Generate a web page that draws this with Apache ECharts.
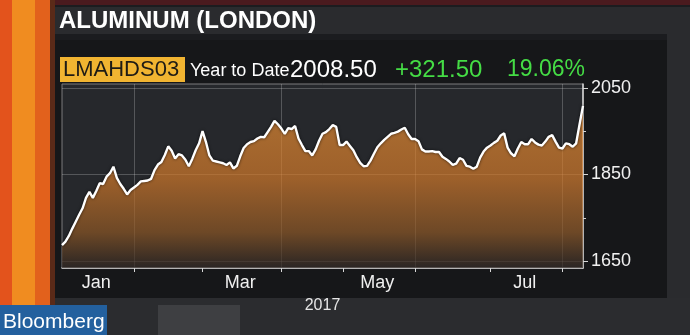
<!DOCTYPE html>
<html><head><meta charset="utf-8">
<script src="https://cdn.jsdelivr.net/npm/echarts@6/dist/echarts.min.js"></script>
<style>html,body{margin:0;padding:0;background:#1a1b1e;}#c{width:690px;height:335px;}</style>
</head><body><div id="c"></div>
<script>
// ---- data ----
const startDate = '2017-01-03';
const endDate = '2017-08-09';
const holidays = ['2017-04-14', '2017-04-17', '2017-05-01', '2017-05-29'];
const monthNames = ['Jan', 'Feb', 'Mar', 'Apr', 'May', 'Jun', 'Jul', 'Aug'];
const labelMonths = ['Jan', 'Mar', 'May', 'Jul'];
const gridMonths = ['Feb', 'Apr', 'Jun', 'Aug'];
const prices = [
  1687,1695,1708,1725,1741,1757,1772,1796,1810,1796,
  1812,1830,1828,1845,1853,1868,1842,1828,1817,1804,
  1814,1820,1826,1834,1835,1836,1840,1860,1873,1879,
  1895,1915,1905,1887,1897,1894,1884,1869,1886,1906,
  1922,1950,1925,1894,1882,1880,1878,1876,1872,1878,
  1864,1870,1892,1911,1920,1925,1927,1933,1937,1936,
  1948,1960,1974,1966,1956,1944,1957,1955,1962,1933,
  1918,1904,1904,1894,1908,1928,1944,1948,1955,1964,
  1960,1918,1918,1926,1916,1906,1890,1877,1869,1870,
  1882,1898,1913,1922,1930,1937,1944,1946,1949,1954,
  1958,1943,1932,1932,1927,1908,1903,1903,1904,1902,
  1902,1891,1886,1880,1872,1875,1888,1884,1870,1868,
  1863,1868,1889,1903,1912,1917,1923,1928,1940,1945,
  1912,1899,1892,1910,1925,1920,1920,1932,1924,1919,
  1917,1926,1937,1941,1926,1912,1910,1922,1920,1914,
  1922,1966,2008.5
];
const yMajorValues = [1650, 1850, 2050];
const yMinorValues = [1750, 1950];
const yMin = 1634, yMax = 2059;
const xAxisName = '2017';
const titleText = 'ALUMINUM (LONDON)';
const tickerText = 'LMAHDS03';
const periodText = 'Year to Date';
const lastText = '2008.50';
const changeText = '+321.50';
const pctText = '19.06%';
const brandText = 'Bloomberg';

// ---- categories (trading days) ----
const dates = [];
{
  let d = new Date(startDate + 'T00:00:00Z');
  const end = new Date(endDate + 'T00:00:00Z');
  while (d <= end) {
    const s = d.toISOString().slice(0, 10);
    const wd = d.getUTCDay();
    if (wd !== 0 && wd !== 6 && holidays.indexOf(s) < 0) dates.push(s);
    d = new Date(d.getTime() + 86400000);
  }
}
const monthOf = s => monthNames[parseInt(s.slice(5, 7), 10) - 1];
const monthStart = {};
dates.forEach((s, i) => { const m = monthOf(s); if (!(m in monthStart)) monthStart[m] = i; });
const startIdx = new Set(Object.keys(monthStart).filter(m => m !== 'Jan').map(m => monthStart[m]));
const gridIdx = new Set(gridMonths.map(m => monthStart[m]));
const labelIdx = new Set(labelMonths.map(m => {
  const k = monthNames.indexOf(m);
  const a = monthStart[m];
  const b = monthStart[monthNames[k + 1]];
  return Math.floor((a + b) / 2);
}));

const FONT = '"Liberation Sans", Arial, Helvetica, sans-serif';
const chart = echarts.init(document.getElementById('c'));
chart.setOption({
  backgroundColor: '#1b1c1f',
  animation: false,
  grid: {
    left: 62, right: 107, top: 84, bottom: 67,
    show: true, backgroundColor: '#26282c', borderColor: '#7a7b7d', borderWidth: 1
  },
  xAxis: {
    type: 'category', data: dates, boundaryGap: false,
    name: xAxisName, nameLocation: 'middle', nameGap: 30,
    nameTextStyle: { color: '#e6e6e6', fontSize: 16, fontFamily: FONT },
    axisLine: { lineStyle: { color: '#d8d8d8', width: 1.5 } },
    axisTick: { interval: (i) => startIdx.has(i), length: 4, lineStyle: { color: '#d8d8d8' } },
    axisLabel: {
      interval: (i) => labelIdx.has(i), formatter: (v) => monthOf(v),
      color: '#f0f0f0', fontSize: 18, fontFamily: FONT, margin: 6
    },
    splitLine: { show: true, interval: (i) => gridIdx.has(i), lineStyle: { color: 'rgba(255,255,255,0.22)' } }
  },
  yAxis: [{
    type: 'value', position: 'right', min: yMin, max: yMax,
    axisLine: { show: true, lineStyle: { color: '#d8d8d8', width: 1.5 } },
    axisTick: { show: true, customValues: yMajorValues, length: 5, lineStyle: { color: '#d8d8d8' } },
    axisLabel: { customValues: yMajorValues, formatter: (v) => String(v), color: '#f0f0f0', fontSize: 18, fontFamily: FONT, margin: 8 },
    splitLine: { show: true, lineStyle: { color: 'rgba(255,255,255,0.22)' } }
  }, {
    type: 'value', position: 'right', min: yMin, max: yMax,
    axisLine: { show: false },
    axisTick: { show: true, customValues: yMinorValues, length: 3, lineStyle: { color: '#d8d8d8' } },
    axisLabel: { show: false },
    splitLine: { show: false }
  }],
  series: [{
    type: 'line', data: prices, yAxisIndex: 0, symbol: 'none', smooth: false,
    lineStyle: { color: '#ffffff', width: 2.4, shadowColor: 'rgba(0,0,0,0.7)', shadowBlur: 3 },
    areaStyle: {
      color: new echarts.graphic.LinearGradient(0, 0, 0, 1, [
        { offset: 0, color: 'rgb(232,142,52)' },
        { offset: 0.45, color: 'rgb(208,120,42)' },
        { offset: 0.78, color: 'rgb(140,86,36)' },
        { offset: 1, color: 'rgb(44,36,32)' }
      ])
    }
  }],
  graphic: [
    // background panels
    { type: 'rect', z: -10, shape: { x: 0, y: 0, width: 690, height: 335 }, style: { fill: '#1b1c1f' } },
    { type: 'rect', z: -9, shape: { x: 0, y: 0, width: 690, height: 5 }, style: { fill: '#4a1a1e' } },
    { type: 'rect', z: -9, shape: { x: 55, y: 7, width: 635, height: 27 }, style: { fill: '#2a2b2e' } },
    { type: 'rect', z: -9, shape: { x: 55, y: 40, width: 612, height: 258 }, style: { fill: '#161719' } },
    { type: 'rect', z: -9, shape: { x: 667, y: 34, width: 23, height: 270 }, style: { fill: '#2a2b2e' } },
    { type: 'rect', z: -9, shape: { x: 55, y: 298, width: 635, height: 37 }, style: { fill: '#2b2c2f' } },
    { type: 'rect', z: -9, shape: { x: 158, y: 305, width: 82, height: 30 }, style: { fill: '#3e3f42' } },
    { type: 'rect', z: -8, shape: { x: 0, y: 0, width: 12, height: 335 }, style: { fill: '#e3531c' } },
    { type: 'rect', z: -8, shape: { x: 12, y: 0, width: 23, height: 335 }, style: { fill: '#f08c20' } },
    { type: 'rect', z: -8, shape: { x: 35, y: 0, width: 15, height: 335 }, style: { fill: '#e2611c' } },
    { type: 'rect', z: -8, shape: { x: 50, y: 0, width: 5, height: 335 }, style: { fill: '#5a2a18' } },
    // title & header
    { type: 'text', z: 100, style: { x: 59, y: 21, text: titleText, fill: '#ffffff', font: 'bold 24px ' + FONT, verticalAlign: 'middle' } },
    { type: 'rect', z: 99, shape: { x: 60, y: 57, width: 125, height: 25 }, style: { fill: '#f1b431' } },
    { type: 'text', z: 100, style: { x: 63, y: 70, text: tickerText, fill: '#1e1b15', font: '22px ' + FONT, verticalAlign: 'middle' } },
    { type: 'text', z: 100, style: { x: 190, y: 71, text: periodText, fill: '#ffffff', font: '18px ' + FONT, verticalAlign: 'middle' } },
    { type: 'text', z: 100, style: { x: 290, y: 70, text: lastText, fill: '#ffffff', font: '24px ' + FONT, verticalAlign: 'middle' } },
    { type: 'text', z: 100, style: { x: 395, y: 70, text: changeText, fill: '#45dc45', font: '24px ' + FONT, verticalAlign: 'middle' } },
    { type: 'text', z: 100, style: { x: 507, y: 70, text: pctText, fill: '#45dc45', font: '23px ' + FONT, verticalAlign: 'middle' } },
    // brand
    { type: 'rect', z: 99, shape: { x: 0, y: 305, width: 107, height: 30 }, style: { fill: '#23609e' } },
    { type: 'text', z: 100, style: { x: 3, y: 322, text: brandText, fill: '#ffffff', font: '21px ' + FONT, verticalAlign: 'middle' } }
  ]
});
</script></body></html>
